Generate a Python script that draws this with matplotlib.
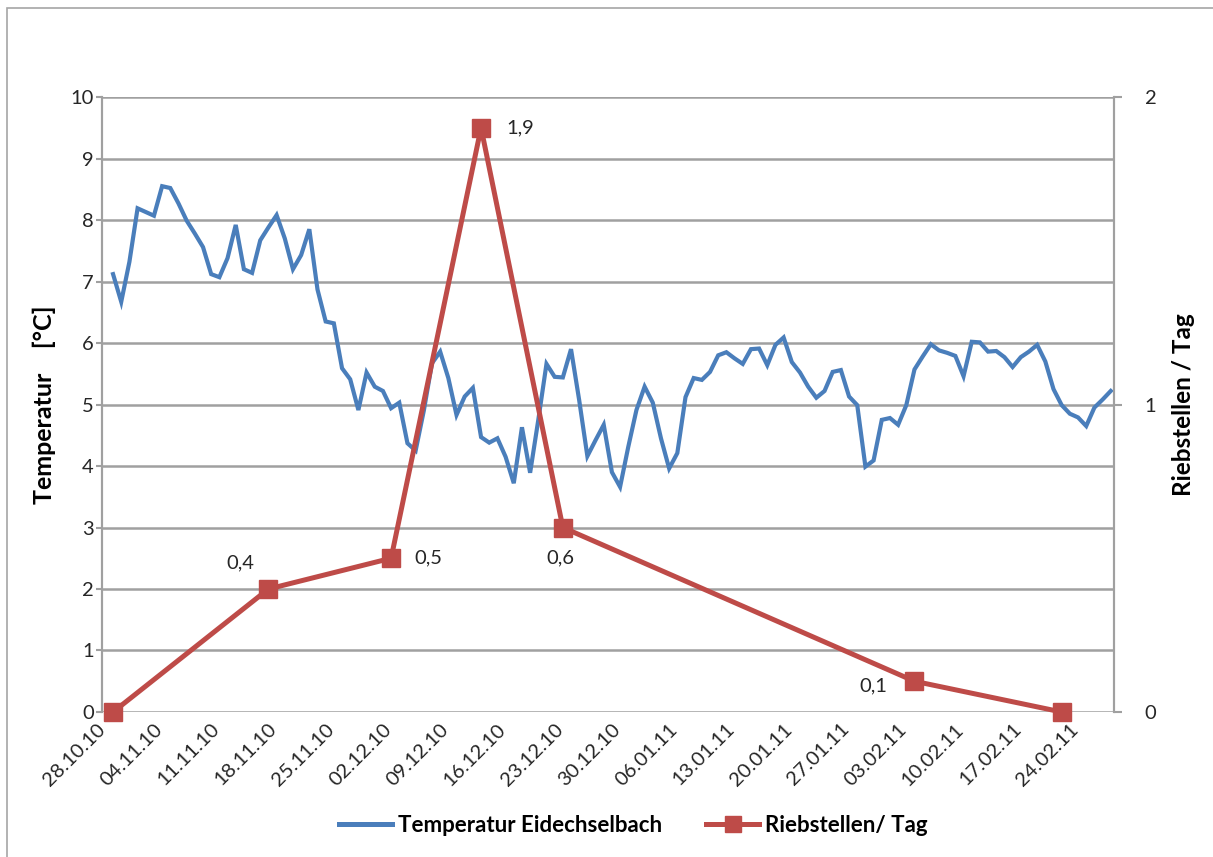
import datetime as dt
import matplotlib
matplotlib.use('Agg')
import matplotlib.pyplot as plt
import matplotlib.dates as mdates
import matplotlib.patches as mpatches
import matplotlib.transforms as mtransforms
from matplotlib.lines import Line2D

plt.rcParams['font.family'] = ['Lato', 'DejaVu Sans']

# daily water temperature, starting 28.10.2010
start_date = dt.date(2010, 10, 28)
temperatur = [
    7.12, 6.67, 7.32, 8.19, 8.13, 8.07, 8.55, 8.52, 8.27, 7.99,
    7.78, 7.56, 7.12, 7.07, 7.38, 7.92, 7.20, 7.14, 7.67, 7.88,
    8.08, 7.70, 7.20, 7.43, 7.85, 6.87, 6.35, 6.32, 5.59, 5.41,
    4.91, 5.52, 5.29, 5.22, 4.94, 5.03, 4.37, 4.25, 4.90, 5.67,
    5.86, 5.43, 4.83, 5.13, 5.27, 4.47, 4.38, 4.45, 4.15, 3.72,
    4.63, 3.89, 4.75, 5.66, 5.45, 5.44, 5.90, 5.07, 4.16, 4.42,
    4.67, 3.90, 3.66, 4.31, 4.91, 5.29, 5.03, 4.45, 3.96, 4.21,
    5.12, 5.43, 5.40, 5.53, 5.80, 5.85, 5.75, 5.66, 5.90, 5.91,
    5.64, 5.97, 6.09, 5.69, 5.52, 5.29, 5.11, 5.22, 5.53, 5.56,
    5.13, 4.99, 3.99, 4.09, 4.75, 4.78, 4.67, 4.99, 5.57, 5.78,
    5.98, 5.88, 5.84, 5.79, 5.46, 6.02, 6.01, 5.86, 5.87, 5.77,
    5.61, 5.77, 5.86, 5.97, 5.70, 5.25, 4.99, 4.85, 4.79, 4.65,
    4.95, 5.08, 5.22,
]
temp_dates = [start_date + dt.timedelta(days=i) for i in range(len(temperatur))]

# spawning sites counted per day
rieb_dates = ['28.10.10', '16.11.10', '01.12.10', '12.12.10', '22.12.10', '03.02.11', '21.02.11']
rieb_werte = [0, 0.4, 0.5, 1.9, 0.6, 0.1, 0]
# label offset (points) for each value, None = no label
rieb_label_off = [None, (-20, 19), (27, 0), (28, 0), (-2, -22), (-30, -3), None]

# weekly date ticks
tick_labels = ['28.10.10', '04.11.10', '11.11.10', '18.11.10', '25.11.10', '02.12.10',
               '09.12.10', '16.12.10', '23.12.10', '30.12.10', '06.01.11', '13.01.11',
               '20.01.11', '27.01.11', '03.02.11', '10.02.11', '17.02.11', '24.02.11']

blau = '#4A7EBB'
rot = '#BE4B48'
grau = '#A0A0A0'
text_farbe = '#262626'


def to_date(s):
    return dt.datetime.strptime(s, '%d.%m.%y').date()


fig = plt.figure(figsize=(12.13, 8.57), dpi=100)
ax = fig.add_axes([0.0841, 0.1692, 0.8343, 0.7176])
ax2 = ax.twinx()

# chart area frame
fig.patches.append(mpatches.Rectangle((7 / 1213, -0.01), 1.2, 1 - 8 / 857 + 0.01,
                                      transform=fig.transFigure, fill=False,
                                      edgecolor='#A6A6A6', linewidth=1.2))

ax.plot(mdates.date2num(temp_dates), temperatur, color=blau, linewidth=3.0,
        solid_joinstyle='miter', zorder=3)

rx = mdates.date2num([to_date(d) for d in rieb_dates])
ax2.plot(rx, rieb_werte, color=rot, linewidth=3.6, marker='s', markersize=13,
         markeredgecolor=rot, zorder=4, clip_on=False)

for x, v, off in zip(rx, rieb_werte, rieb_label_off):
    if off is None:
        continue
    txt = f'{v:.1f}'.replace('.', ',')
    ax2.annotate(txt, (x, v), xytext=off, textcoords='offset points',
                 ha='center', va='center', fontsize=14.5, color=text_farbe)

x0 = mdates.date2num(start_date)
ax.set_xlim(x0 - 1.35, x0 + 122.4)
ax.set_ylim(0, 10)
ax2.set_ylim(0, 2)

ax.set_yticks(range(0, 11))
ax2.set_yticks([0, 1, 2])

# date labels drawn by hand, slanted and ending just left of each week
tick_x = mdates.date2num([to_date(t) for t in tick_labels])
ax.set_xticks(tick_x)
ax.set_xticklabels([])
shift = mtransforms.ScaledTranslation(-12 / 72, -6 / 72, fig.dpi_scale_trans)
for x, t in zip(tick_x, tick_labels):
    ax.text(x, 0, t, transform=ax.get_xaxis_transform() + shift,
            rotation=45, ha='right', va='top', rotation_mode='anchor',
            fontsize=14.5, color=text_farbe, clip_on=False)

ax.grid(axis='y', color=grau, linewidth=1.8)
ax.set_axisbelow(True)

for a in (ax, ax2):
    for side in ('top', 'bottom'):
        a.spines[side].set_visible(False)
    a.spines['left'].set_color(grau)
    a.spines['right'].set_color(grau)
    a.spines['left'].set_linewidth(1.5)
    a.spines['right'].set_linewidth(1.5)

ax.tick_params(axis='y', length=4, width=1.5, color=grau, labelsize=14.5,
               labelcolor=text_farbe, pad=2)
ax.tick_params(axis='x', length=0)
ax2.tick_params(axis='y', length=6, width=1.5, color=grau, labelsize=14.5,
                labelcolor=text_farbe, pad=16)

ax.set_ylabel('Temperatur    [°C]', fontsize=18, fontweight='bold', labelpad=10)
ax2.set_ylabel('Riebstellen / Tag', fontsize=17.5, fontweight='bold', labelpad=11)

handles = [Line2D([], [], color=blau, linewidth=3.6),
           Line2D([], [], color=rot, linewidth=3.6, marker='s', markersize=12)]
fig.legend(handles, ['Temperatur Eidechselbach', 'Riebstellen/ Tag'],
           loc='center', bbox_to_anchor=(0.522, 0.037), ncol=2, frameon=False,
           prop={'size': 16, 'weight': 'bold'}, handlelength=2.4,
           handletextpad=0.25, columnspacing=2.0)

fig.savefig('out.png', dpi=100)
